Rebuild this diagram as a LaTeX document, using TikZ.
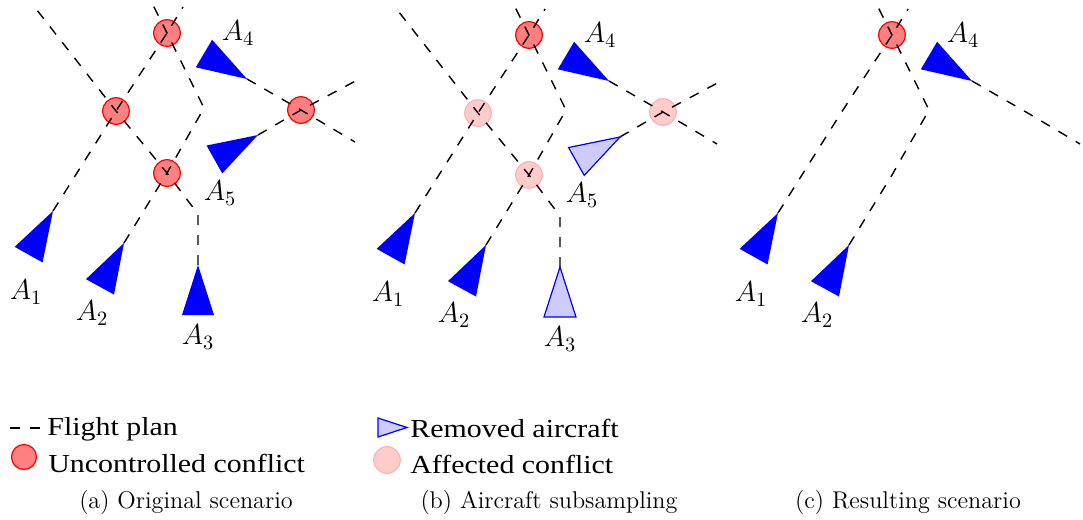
\RequirePackage{fix-cm}
\documentclass[tikz,border=0pt]{standalone}
\usepackage{fontspec}
\newfontfamily\legendfont[FakeStretch=1.15]{Liberation Serif}

\tikzset{
  plan/.style={dash pattern=on 5pt off 5pt, line width=0.7pt},
  conflict/.style={circle, draw=red, fill=red!50, line width=0.6pt,
    minimum size=13.3pt, inner sep=0pt},
  affected/.style={circle, draw=red!30, fill=red!20, line width=0.6pt,
    minimum size=13.3pt, inner sep=0pt},
  lbl/.style={inner sep=0pt, font=\fontsize{14.5}{17}\selectfont},
  legendtext/.style={inner sep=0pt, anchor=base west, font=\legendfont\fontsize{13}{15}\selectfont},
  captext/.style={inner sep=0pt, anchor=base, font=\fontsize{12.1}{14}\selectfont},
  plane/.pic={\fill[blue] (0,0) -- (-50,16) -- (-50,-16) -- cycle;},
  removedplane/.pic={\filldraw[draw=blue, fill=blue!20, line width=0.6pt]
    (0,0) -- (-50,16) -- (-50,-16) -- cycle;}
}

\begin{document}
\begin{tikzpicture}[x=0.5pt, y=-0.5pt]
\useasboundingbox (0,0) rectangle (1083,520);

% ---------- (a) original scenario ----------
\begin{scope}[name prefix=a-]
  \node[conflict] (c1) at (167,33) {};
  \node[conflict] (c2) at (116,111) {};
  \node[conflict] (c3) at (301,110) {};
  \node[conflict] (c4) at (167,173) {};
  \coordinate (p1) at (53,211);
  \coordinate (p2) at (124,243);
  \coordinate (p3) at (198,265);
  \coordinate (p4) at (247,79);
  \coordinate (p5) at (258,135);
  \coordinate (b2) at (204,108);
  \coordinate (b3) at (198,214);
  \coordinate (e1) at (183,7);
  \coordinate (e2) at (153,5);
  \coordinate (e3) at (33,5);
  \coordinate (e4) at (355,142);
  \coordinate (e5) at (363,77);
  \draw[plan] (p1) -- (c2.center) -- (c1.center) -- (e1);
  \draw[plan] (p2) -- (c4.center) -- (b2) -- (c1.center) -- (e2);
  \draw[plan] (p3) -- (b3) -- (c4.center) -- (c2.center) -- (e3);
  \draw[plan] (p4) -- (c3.center) -- (e4);
  \draw[plan] (p5) -- (c3.center) -- (e5);
  \pic[rotate=60.8] at (p1) {plane};
  \pic[rotate=61.3] at (p2) {plane};
  \pic[rotate=90] at (p3) {plane};
  \pic[rotate=-30.6] at (p4) {plane};
  \pic[rotate=29.3] at (p5) {plane};
  \node[lbl] (l1) at (26,292) {$A_1$};
  \node[lbl] (l2) at (92,313) {$A_2$};
  \node[lbl] (l3) at (198,337) {$A_3$};
  \node[lbl] (l4) at (238,33) {$A_4$};
  \node[lbl] (l5) at (220,193) {$A_5$};
\end{scope}

% ---------- (b) aircraft subsampling ----------
\begin{scope}[shift={(362,2)}, name prefix=b-]
  \node[conflict] (c1) at (167,33) {};
  \node[affected] (c2) at (116,111) {};
  \node[affected] (c3) at (301,110) {};
  \node[affected] (c4) at (167,173) {};
  \coordinate (p1) at (53,211);
  \coordinate (p2) at (124,243);
  \coordinate (p3) at (198,265);
  \coordinate (p4) at (247,79);
  \coordinate (p5) at (258,135);
  \coordinate (b2) at (204,108);
  \coordinate (b3) at (198,214);
  \coordinate (e1) at (183,7);
  \coordinate (e2) at (153,5);
  \coordinate (e3) at (33,5);
  \coordinate (e4) at (355,142);
  \coordinate (e5) at (363,77);
  \draw[plan] (p1) -- (c2.center) -- (c1.center) -- (e1);
  \draw[plan] (p2) -- (c4.center) -- (b2) -- (c1.center) -- (e2);
  \draw[plan] (p3) -- (b3) -- (c4.center) -- (c2.center) -- (e3);
  \draw[plan] (p4) -- (c3.center) -- (e4);
  \draw[plan] (p5) -- (c3.center) -- (e5);
  \pic[rotate=60.8] at (p1) {plane};
  \pic[rotate=61.3] at (p2) {plane};
  \pic[rotate=90] at (p3) {removedplane};
  \pic[rotate=-30.6] at (p4) {plane};
  \pic[rotate=29.3] at (p5) {removedplane};
  \node[lbl] (l1) at (26,292) {$A_1$};
  \node[lbl] (l2) at (92,313) {$A_2$};
  \node[lbl] (l3) at (198,337) {$A_3$};
  \node[lbl] (l4) at (238,33) {$A_4$};
  \node[lbl] (l5) at (220,193) {$A_5$};
\end{scope}

% ---------- (c) resulting scenario ----------
\begin{scope}[shift={(725,2)}, name prefix=c-]
  \node[conflict] (c1) at (167,33) {};
  \coordinate (x2) at (116,111);
  \coordinate (x3) at (301,110);
  \coordinate (x4) at (167,173);
  \coordinate (p1) at (53,211);
  \coordinate (p2) at (124,243);
  \coordinate (p4) at (247,79);
  \coordinate (b2) at (204,108);
  \coordinate (e1) at (183,7);
  \coordinate (e2) at (153,5);
  \coordinate (e4) at (355,142);
  \draw[plan] (p1) -- (x2) -- (c1.center) -- (e1);
  \draw[plan] (p2) -- (x4) -- (b2) -- (c1.center) -- (e2);
  \draw[plan] (p4) -- (x3) -- (e4);
  \pic[rotate=60.8] at (p1) {plane};
  \pic[rotate=61.3] at (p2) {plane};
  \pic[rotate=-30.6] at (p4) {plane};
  \node[lbl] (l1) at (26,292) {$A_1$};
  \node[lbl] (l2) at (92,313) {$A_2$};
  \node[lbl] (l4) at (238,33) {$A_4$};
\end{scope}

% ---------- legend ----------
\coordinate (fpa) at (10,428);
\coordinate (fpb) at (40,428);
\draw[plan] (fpa) -- (fpb);
\node[legendtext] (tfp) at (47,435) {Flight plan};
\node[conflict, minimum size=12.5pt] (kuc) at (24,457) {};
\node[legendtext] (tuc) at (48,472) {Uncontrolled conflict};
\filldraw[draw=blue, fill=blue!20, line width=0.6pt]
  (378,418) -- (407,427.5) -- (378,437) -- cycle;
\node[legendtext] (tra) at (410,437) {Removed aircraft};
\node[affected] (kac) at (387,460) {};
\node[legendtext] (tac) at (410,473) {Affected conflict};

% ---------- captions ----------
\node[captext] (capa) at (186,508) {(a) Original scenario};
\node[captext] (capb) at (549,508) {(b) Aircraft subsampling};
\node[captext] (capc) at (908,508) {(c) Resulting scenario};
\end{tikzpicture}
\end{document}
